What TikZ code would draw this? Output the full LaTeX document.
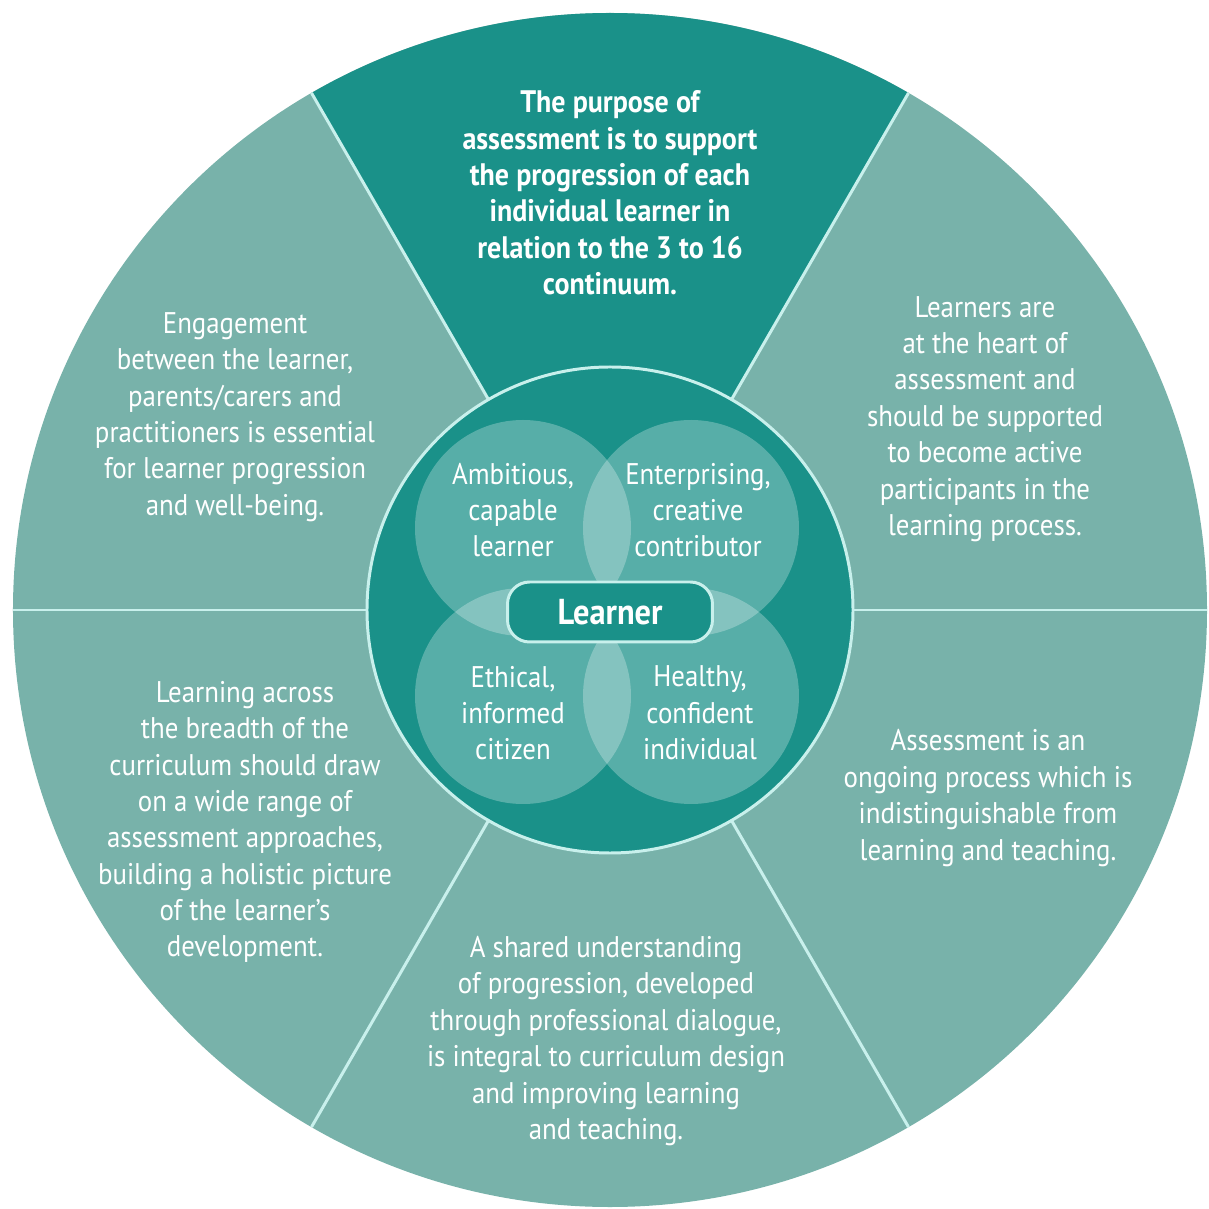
\documentclass[tikz,border=0pt]{standalone}
\usepackage{fontspec}
\setmainfont[FakeStretch=0.9]{PT Sans}
\definecolor{darkteal}{HTML}{1A9189}
\definecolor{lightteal}{HTML}{78B2AA}
\definecolor{rimline}{HTML}{C8F0EC}
\begin{document}
\begin{tikzpicture}[x=0.02cm,y=0.02cm,
  txt/.style={text=white,align=center,font=\fontsize{17}{20.7}\selectfont},
  venn/.style={fill=white,fill opacity=0.27},
  divider/.style={rimline,line width=1.7pt}]
  \useasboundingbox (-610,-599) rectangle (599,610);
  \fill[lightteal] (0,0) circle (597);
  \fill[darkteal] (0,0) -- (60:597) arc (60:120:597) -- cycle;
  \foreach \a in {0,60,...,300} \draw[divider] (0,0) -- (\a:597);
  \draw[divider,fill=darkteal] (0,0) circle (243);
  \foreach \x/\y in {-87/82,81/82,-87/-86,81/-86} \fill[venn] (\x,\y) circle (108);
  \node[txt,draw=rimline,line width=1.7pt,fill=darkteal,rounded corners=0.44cm,
    minimum width=4.1cm,minimum height=1.2cm,font=\fontsize{20.5}{24}\selectfont\bfseries] (learner) at (0,-2) {Learner};
  \node[txt] (ambitious) at (-97,100) {Ambitious,\\ capable\\ learner};
  \node[txt] (enterprising) at (88,100) {Enterprising,\\ creative\\ contributor};
  \node[txt] (ethical) at (-97,-103) {Ethical,\\ informed\\ citizen};
  \node[txt] (healthy) at (90,-103) {Healthy,\\ confident\\ individual};
  \node[txt,font=\fontsize{17.7}{20.7}\selectfont\bfseries] (purpose) at (0,417) {The purpose of\\ assessment is to support\\ the progression of each\\ individual learner in\\ relation to the 3 to 16\\ continuum.};
  \node[txt] (engage) at (-375,193) {Engagement\\ between the learner,\\ parents/carers and\\ practitioners is essential\\ for learner progression\\ and well-being.};
  \node[txt] (heart) at (375,191) {Learners are\\ at the heart of\\ assessment and\\ should be supported\\ to become active\\ participants in the\\ learning process.};
  \node[txt] (breadth) at (-365,-212) {Learning across\\ the breadth of the\\ curriculum should draw\\ on a wide range of\\ assessment approaches,\\ building a holistic picture\\ of the learner’s\\ development.};
  \node[txt] (ongoing) at (378,-188) {Assessment is an\\ ongoing process which is\\ indistinguishable from\\ learning and teaching.};
  \node[txt] (shared) at (-4,-431) {A shared understanding\\ of progression, developed\\ through professional dialogue,\\ is integral to curriculum design\\ and improving learning\\ and teaching.};
\end{tikzpicture}
\end{document}
